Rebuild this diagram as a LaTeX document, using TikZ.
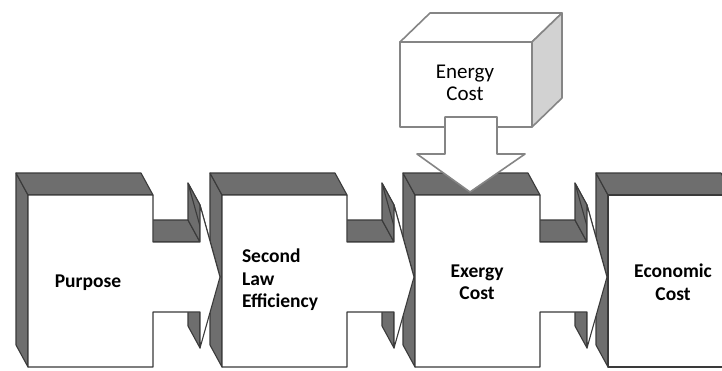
\documentclass[tikz,border=0pt]{standalone}
\usepackage{fontspec}
\setmainfont{Carlito}
\usetikzlibrary{positioning}
\definecolor{facegray}{HTML}{6E6E6E}
\definecolor{edgegray}{HTML}{3A3A3A}
\definecolor{sidegray}{HTML}{D2D2D2}
\definecolor{boxline}{HTML}{858585}

\begin{document}
\begin{tikzpicture}[x=1pt, y=-1pt, line join=round,
face/.style={fill=facegray, draw=edgegray, line width=1.1pt},
frontface/.style={fill=white, draw=edgegray, line width=1.1pt},
lightbox/.style={fill=white, draw=boxline, line width=1.6pt},
blocklabel/.style={font=\fontsize{19.5}{22.5}\selectfont\bfseries, align=center, inner sep=0pt}]
\clip (0,0) rectangle (722,370);
\fill[white] (0,0) rectangle (722,370);

% blocks, drawn from right to left so each arrow lies over the next block
\foreach \x/\a in {608/0, 415/1, 222/1, 28/1} {
  \draw[face] (\x,195) -- (\x,367) -- ({\x-12},345) -- ({\x-12},173) -- cycle;
  \draw[face] ({\x-12},173) -- ({\x+113},173) -- ({\x+125},195) -- (\x,195) -- cycle;
  \ifnum\a=1
    \draw[face] ({\x+113},220) -- ({\x+160},220) -- ({\x+172},242) -- ({\x+125},242) -- cycle;
    \draw[face] ({\x+172},205) -- ({\x+172},242) -- ({\x+160},220) -- ({\x+160},183) -- cycle;
    \draw[face] ({\x+160},183) -- ({\x+172},205) -- ({\x+192},277) -- ({\x+180},255) -- cycle;
    \draw[face] ({\x+172},312) -- ({\x+172},348) -- ({\x+160},326) -- ({\x+160},290) -- cycle;
    \draw[frontface] (\x,195) -- ({\x+125},195) -- ({\x+125},242) -- ({\x+172},242)
      -- ({\x+172},205) -- ({\x+192},277) -- ({\x+172},348) -- ({\x+172},312)
      -- ({\x+125},312) -- ({\x+125},367) -- (\x,367) -- cycle;
  \else
    \draw[frontface] (\x,195) rectangle ({\x+125},367);
  \fi
}

% energy cost box
\draw[lightbox] (400,42) -- (430,13) -- (562,13) -- (532,42) -- cycle;
\draw[lightbox, fill=sidegray] (532,42) -- (562,13) -- (562,98) -- (532,127) -- cycle;
\draw[lightbox] (400,42) rectangle (532,127);
\draw[lightbox] (445,117) -- (497,117) -- (497,154) -- (525,154) -- (470,192)
  -- (417,154) -- (445,154) -- cycle;

\node[blocklabel] (purpose) at (88,283) {Purpose};
\node[blocklabel, align=left] (second) at (280,280) {Second\\Law\\Efficiency};
\node[blocklabel] (exergy) at (477,282) {Exergy\\Cost};
\node[blocklabel] (economic) at (673,282) {Economic\\Cost};
\node[blocklabel, font=\fontsize{21}{21.5}\selectfont] (energy) at (465,83) {Energy\\Cost};
\end{tikzpicture}
\end{document}
